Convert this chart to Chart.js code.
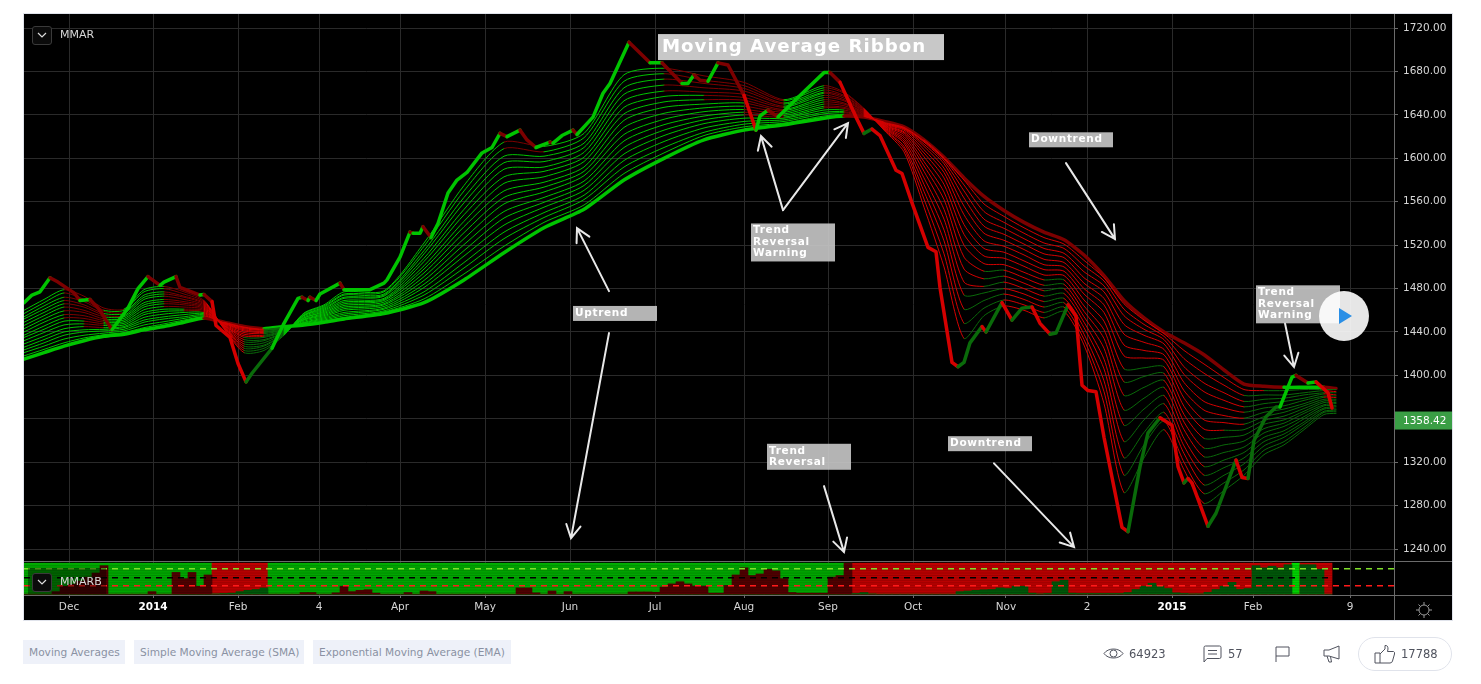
<!DOCTYPE html>
<html>
<head>
<title>Moving Average Ribbon</title>
<script src="https://cdn.jsdelivr.net/npm/chart.js"></script>
<style>
html,body{margin:0;padding:0;background:#fff;overflow:hidden}
body{width:1481px;height:684px;position:relative;font-family:"DejaVu Sans",sans-serif}
#panel{position:absolute;left:24px;top:14px;width:1428px;height:606px;background:#000;box-shadow:0 0 0 1px #e0e3eb}
#wrap{position:absolute;left:0;top:0;width:1481px;height:684px}
.abs{position:absolute}
.chev{position:absolute;left:32px;width:18px;height:17px;border:1px solid #3a3a3a;border-radius:3px;background:#0b0b0b}
.chev svg{position:absolute;left:4px;top:4px}
.leg{position:absolute;left:60px;color:#d8d8d8;font-size:11px;line-height:14px}
.tag{position:absolute;top:640px;height:24px;line-height:25px;background:#eef1f9;color:#8a91a3;font-size:10.6px;padding:0 6px;white-space:nowrap;box-sizing:border-box}
.stat{position:absolute;top:645px;line-height:18px;font-size:11.5px;color:#50535e}
</style>
</head>
<body>
<div id="panel"></div>
<div id="wrap"><canvas id="ribbon" width="1481" height="684"></canvas></div>

<div class="chev" style="top:26px"><svg width="10" height="8"><path d="M1 2 L5 6 L9 2" fill="none" stroke="#ddd" stroke-width="1.2"/></svg></div>
<div class="leg" style="top:28px">MMAR</div>
<div class="abs" style="left:28px;top:568px;width:78px;height:26px;background:rgba(0,0,0,.4)"></div>
<div class="chev" style="top:573px"><svg width="10" height="8"><path d="M1 2 L5 6 L9 2" fill="none" stroke="#ddd" stroke-width="1.2"/></svg></div>
<div class="leg" style="top:575px">MMARB</div>

<svg class="abs" style="left:1414px;top:600px" width="20" height="20" fill="none" stroke="#9a9a9a" stroke-width="1"><circle cx="10" cy="10" r="5"/><path d="M10 2v3M10 15v3M2 10h3M15 10h3M4.5 4.5l2 2M13.5 13.5l2 2M4.5 15.5l2-2M13.5 6.5l2-2"/></svg>

<svg class="abs" style="left:1319px;top:291px" width="50" height="50"><circle cx="25" cy="25" r="25" fill="#fff" fill-opacity=".9"/><path d="M20 17 L33 25 L20 33Z" fill="#2a8fe6"/></svg>

<div class="tag" style="left:23px;width:102px">Moving Averages</div>
<div class="tag" style="left:134px;width:170px">Simple Moving Average (SMA)</div>
<div class="tag" style="left:313px;width:198px">Exponential Moving Average (EMA)</div>

<svg class="abs" style="left:1103px;top:645px" width="21" height="17" fill="none" stroke="#50535e"><path d="M1 8.5 C5 2.5 16 2.5 20 8.5 C16 14.5 5 14.5 1 8.5Z"/><circle cx="10.5" cy="8.5" r="3.5"/></svg>
<div class="stat" style="left:1129px">64923</div>
<svg class="abs" style="left:1203px;top:645px" width="19" height="18" fill="none" stroke="#50535e"><path d="M1 17 V2.5 Q1 1 2.5 1 H16.5 Q18 1 18 2.5 V12 Q18 13.5 16.5 13.5 H4 Z M5 5.5 H14 M5 9 H14"/></svg>
<div class="stat" style="left:1228px">57</div>
<svg class="abs" style="left:1275px;top:646px" width="15" height="16" fill="none" stroke="#50535e"><path d="M1 16 V1 H14 V10 H1"/></svg>
<svg class="abs" style="left:1323px;top:645px" width="17" height="18" fill="none" stroke="#50535e"><path d="M16 1 V14 L6 11 H1 V5 H6 Z M4 11 L6 17 H8.5 L7.5 11.5"/></svg>
<div class="abs" style="left:1358px;top:637px;width:94px;height:34px;border:1px solid #e0e3eb;border-radius:18px;box-sizing:border-box"></div>
<svg class="abs" style="left:1374px;top:644px" width="22" height="20" fill="none" stroke="#50535e"><path d="M1 9 H6 V19 H1 Z M6 10 L11 5 V1.5 Q14 1 14 5 L13.5 7.5 H19.5 Q21 8 20.5 10 L18.5 17 Q18 19 16 19 H6"/></svg>
<div class="stat" style="left:1401px">17788</div>

<script>
// bar position of every ribbon sample (x axis unit = one bar)
const gridBars = [0,5,10,15,20,25,30,35,40,45,50,55,60,65,70,75,80,90,100,110,120,130,140,150,160,170,180,190,200,205,210,215,220,225,230,235,240,245,250,255,260,265,270,275,280,285,290,295,300,305,310,315,320,325,328];

// fastest MA, sampled at its own turning points
const fastBars = [0,2,4,6.5,8.5,12.5,14,16.5,19,21,22,26,28.5,31,34,35,38,39,44,45,47,48,51.5,53.5,55.5,57,62,65,68.5,69.5,71,71.5,73,74,79,80,86.5,90,90.75,94,96.5,97.25,99,99.75,101.75,103.5,106,108.25,110.75,114.5,117,119,120.75,124,125.75,128,131.5,132.25,134.5,137.25,138.25,142.25,144.75,146.5,151.25,156.5,159.5,164.5,166,167.5,169,171,173.5,176,180,183,184,186,188.5,194,200,201.5,204,208,210,212,214,218,219.5,222,226,228,229,232,233.5,235,236.5,239.5,240.5,244.5,247,249.5,252,254,256.5,258,261,263,264.5,266,268,270,274.5,276,279,281,284,287,288.5,290,291,292,296,298,303,304.5,306,307.5,310.5,313,314,317,318,321,323,326,327];
const fastMA = [1467,1474,1477,1490,1486,1476,1469,1470,1460,1448,1442,1462,1480,1491,1483,1486,1491,1481,1474,1474.5,1468,1446,1435,1411,1394,1402,1425,1448,1471,1472,1469,1472,1469,1475,1485,1479,1479,1485,1488,1509,1532,1531,1531,1537,1527,1540,1568,1580,1587,1605,1610,1623,1620,1626,1617,1610,1615,1614,1621,1626,1622,1638,1660,1669,1707,1688,1688,1669,1669,1677,1672,1671,1688,1686,1658,1626,1639,1644.5,1638,1658,1679,1679,1670,1638,1623,1627,1621,1589,1586,1559,1518,1514,1481,1412,1408,1412,1430,1445,1440,1467,1451,1462,1463,1448,1438,1439,1465,1455,1391,1386,1385,1343,1260,1256,1316,1347,1361,1354,1316,1301,1305,1301,1261,1273,1322,1306,1305,1340,1362,1371,1371,1398.5,1400,1393,1394,1384,1370];

// slower MAs of the ribbon, fast to slow, read at gridBars
const ma2 = [1460,1470,1479,1473,1462,1461,1479,1482,1477,1469,1443,1421,1423,1437,1457.5,1465,1477,1478,1522,1575,1615,1611,1623,1677,1683,1676,1670,1654,1667,1661,1646,1626,1606,1555,1500,1434,1455,1464,1460,1453,1459,1428,1374,1292,1324,1350,1313,1282,1294,1308,1327,1336,1350,1364,1365];
const ma3 = [1457,1467,1476,1470,1460,1460,1477,1480,1475,1468,1443,1423,1425,1437.5,1457,1464,1475,1477,1519,1570,1609,1606,1619,1671,1678,1672,1667,1653,1665,1660,1645.5,1626.5,1609,1562.5,1512,1448,1462,1469.5,1465,1458,1463,1433,1385,1308,1336,1358,1320,1291,1301,1313,1331,1339,1352,1366,1366.5];
const ma4 = [1454,1464,1472,1468,1459,1458,1474,1477,1473,1467,1444,1425,1427,1438,1456,1463,1474,1475,1515,1564,1602,1602,1614,1665,1673,1669,1664.5,1651,1663,1658,1645,1627,1611,1569.5,1524,1461,1469,1475,1470,1463,1467,1438,1395,1324,1347.5,1366,1328,1299,1308,1318.5,1335,1343,1355,1367,1368];
const ma5 = [1452,1461,1469,1465,1457,1457,1472,1475,1472,1466,1444,1427,1428,1438.5,1455.5,1462,1472,1474,1512,1559,1596,1597,1610,1659,1667.5,1665,1662,1650,1661,1657,1644.5,1627.5,1614,1576,1534,1474,1476,1480,1475,1468,1471,1444,1406,1339,1359,1374,1335,1308,1315,1324,1339,1346,1357,1369,1369];
const ma6 = [1449,1458,1466,1463,1455.5,1455,1470,1473,1470,1465,1444.5,1429,1430,1439,1455,1461,1471,1473,1508,1553,1590,1592,1605.5,1653,1662,1661,1659,1648,1660,1655.5,1644,1628,1616,1582,1544,1486,1482,1486,1480,1473,1475.5,1449,1415,1354,1369,1381.5,1342,1316,1322,1329,1343,1349,1360,1370,1371];
const ma7 = [1446,1455,1463,1460,1454,1454,1467,1470,1468,1464,1445,1431,1432,1439.5,1454,1460,1469,1471,1505,1548,1583,1588,1601,1647,1657,1658,1656,1647,1658,1654,1643.5,1628.5,1618,1588,1553,1498,1489,1491.5,1485,1478,1480,1454,1425,1368,1379,1389,1350,1325,1329,1334,1347,1353,1362,1372,1372];
const ma8 = [1443,1452,1459.5,1458,1452,1452.5,1465,1468,1466.5,1463,1445.5,1433,1433,1440,1453,1459,1467.5,1470,1501,1542,1577,1583,1597,1641,1652,1654,1653.5,1645,1656,1653,1643,1629,1620,1593,1562,1509,1496,1497,1490,1483,1484,1459,1434,1381.5,1389,1395.5,1357,1333,1336,1339.5,1351,1356,1365,1373,1374];
const ma9 = [1440,1449,1456,1455,1450.5,1451,1463,1466,1465,1462,1446,1435,1435,1440.5,1453,1458,1466,1469,1498,1537,1570,1578,1592,1635,1647,1650,1651,1644,1654,1651,1642.5,1629.5,1622,1597,1569,1520,1503,1502,1495,1488,1488,1464,1442,1394,1399,1402,1364,1342,1343,1345,1355,1359,1367,1375,1375];
const ma10 = [1437,1445.5,1453,1452.5,1449,1449.5,1460.5,1463.5,1463,1461,1446,1436.5,1436,1441,1452,1457,1464.5,1467.5,1494.5,1531.5,1564,1573.5,1588,1628.5,1641.5,1646.5,1648,1642.5,1652,1650,1642,1630,1623.5,1601.5,1576,1530,1510,1508,1500.5,1492.5,1492,1469.5,1450,1406,1407,1408,1371.5,1350.5,1349.5,1350,1358.5,1362.5,1369.5,1376.5,1376.5];
const ma11 = [1435,1442.5,1450,1450,1447.5,1448,1458,1461,1461,1460,1446.5,1438,1437,1441.5,1451.5,1456,1463,1466,1491,1526,1558,1569,1584,1622,1636,1643,1645,1641,1650,1648.5,1641.5,1630.5,1624.5,1605,1582,1539,1517,1513.5,1505.5,1497.5,1496,1475,1458,1418,1416,1414,1379,1359,1356.5,1355,1362,1366,1372,1378,1378];
const ma12 = [1432,1439.5,1446.5,1447.5,1446,1446.5,1456,1459,1459.5,1459,1447,1439.5,1438.5,1442,1451,1455,1461.5,1465,1487.5,1520.5,1551,1564,1579,1616,1631,1639,1642.5,1639.5,1648,1647,1641,1631,1626,1608,1587,1548,1524,1519,1511,1502,1500,1480,1465,1428,1423,1419,1386,1368,1363,1360.5,1366,1369,1374,1380,1379.5];
const ma13 = [1429,1436,1443,1445,1444,1445,1453.5,1456.5,1458,1458,1447.5,1441,1439.5,1442.5,1450,1454,1460,1463.5,1484,1515,1545,1559.5,1575,1610,1626,1635.5,1640,1638,1646.5,1646,1640.5,1631.5,1627,1611,1591,1556,1531,1524.5,1516,1507,1504,1485,1471,1438,1430.5,1424,1393.5,1376,1370,1366,1370,1372,1377,1381,1381];
const ma14 = [1426,1433,1440,1442,1442.5,1444,1451,1454,1456,1457,1448,1442,1440.5,1443,1449,1453,1458,1462,1481,1510,1538.5,1555,1570.5,1604,1621,1632,1637,1637,1644.5,1644.5,1640,1632,1627.5,1613,1595,1563.5,1537.5,1530,1521,1512,1508.5,1490,1477,1447,1437,1429,1401,1385,1377,1371,1374,1376,1379,1383,1382];
const ma15 = [1423.5,1430,1437,1440,1441,1442.5,1449,1452,1454,1456,1448,1443,1441.5,1443.5,1448.5,1452,1456.5,1461,1477,1504,1532,1550,1566,1598,1615.5,1628,1634,1635.5,1642.5,1643,1639.5,1632.5,1628,1615,1597.5,1570,1544,1535.5,1526,1517,1512.5,1495.5,1482.5,1455,1442.5,1433,1408,1393,1384,1376,1378,1379,1382,1384,1384];
const ma16 = [1421,1427,1433.5,1437,1439,1441,1446.5,1449.5,1452.5,1455,1448.5,1444,1442,1444,1448,1451,1455,1459.5,1474,1499,1526,1545.5,1562,1592,1610,1624,1631.5,1634,1641,1642,1639,1633,1628.5,1616,1599.5,1575.5,1551,1541,1531,1522,1517,1501,1487,1461,1447,1436,1415.5,1402,1391,1381.5,1382,1382,1384,1386,1385];
const ma17 = [1418,1424,1430,1434.5,1437.5,1439.5,1444,1447.5,1451,1454,1449,1444.5,1442.5,1444.5,1447,1450,1453.5,1458.5,1470.5,1493.5,1519,1541,1557,1586,1605,1621,1629,1632.5,1639,1640.5,1638.5,1633.5,1629,1617,1600.5,1580,1558,1546.5,1536,1527,1521,1506,1490,1466,1451,1438.5,1423,1410.5,1398,1387,1386,1386,1387,1387,1387];
const slowMA = [1415,1421,1427,1432,1436,1438,1442,1445,1449,1453,1449,1445,1443,1445,1446.5,1449,1452,1457,1467,1488,1513,1536,1553,1580,1600,1617,1626,1631,1637,1639,1638,1634,1629,1617,1601,1582,1565,1552,1541,1532,1525,1511,1492,1469,1453,1440,1430,1419,1405,1392,1390,1389,1389,1389,1388];

// lower panel: share of the ribbon against the trend, one value every 2 bars
const bandLower = [
 0,0,0,0,8,25,32,42,55,68,
 92,0,0,0,0,0,8,0,0,70,
 50,70,25,62,1,2,3,8,12,15,
 20,0,0,0,0,5,5,0,0,4,
 25,8,12,14,3,0,0,0,5,0,
 10,8,0,0,0,0,0,0,0,0,
 0,0,20,20,4,0,10,0,8,0,
 0,0,0,0,0,0,7,7,7,6,
 23,33,40,33,26,26,3,3,28,62,
 85,60,65,80,75,50,5,3,3,3,
 3,55,60,100,2,5,1,0,0,0,
 0,0,0,0,0,0,0,8,10,12,
 14,15,20,18,25,25,3,1,2,40,
 45,3,2,2,2,2,2,2,5,15,
 25,35,25,18,4,2,1,1,6,15,
 25,38,15,18,92,85,90,85,95,0,
 95,95,80,0];
const bandStarts = [0,47,61,207,317,319];
const bandStates = ['up','down','up','down','lime','down'];
const bandStripes = [5,10.5,16,21.5,27,32.5,38,43.5,49,54.5,60,65.5,71,76.5,82,87.5,93];
const bandLevels = [82,53,27];

const priceTicks = [1240,1280,1320,1360,1400,1440,1480,1520,1560,1600,1640,1680,1720];
const timeTicks = [11.25,32.25,53.5,73.75,94,115.25,136.5,157.75,180,201,222.25,245.5,265.75,287,307.25,331.5];
const timeLabels = ['Dec','2014','Feb','4','Apr','May','Jun','Jul','Aug','Sep','Oct','Nov','2','2015','Feb','9'];
const lastPrice = 1358.42;

// text notes on the chart
const noteBars = [251.25,137.25,181.75,185.75,231,308];
const notePrices = [1624,1464,1540,1337,1344,1483];
const noteTexts = [['Downtrend'],['Uptrend'],['Trend','Reversal','Warning'],['Trend','Reversal'],['Downtrend'],['Trend','Reversal','Warning']];
const titleBar = 158.5, titlePrice = 1714.5;

// arrows: from bar, from price, to bar, to price
const arrowFromBars = [146.25,146.25,189.75,189.75,260.5,200,242.5,315.25];
const arrowFromPrices = [1477.7,1439,1552.3,1552.3,1595.6,1298,1319,1448];
const arrowToBars = [138.25,136.75,184.25,206,272.75,205,262.5,317.5];
const arrowToPrices = [1535.7,1250,1620.5,1632.5,1525.6,1237.2,1241.8,1407.7];

function slowAt(bar){
	for(var i=1;i<gridBars.length;i++){
		if(bar<=gridBars[i]){
			var t=(bar-gridBars[i-1])/(gridBars[i]-gridBars[i-1]);
			return slowMA[i-1]+(slowMA[i]-slowMA[i-1])*t;
		}
	}
	return slowMA[slowMA.length-1];
}
function segColor(ctx){
	var up = ctx.p1.parsed.y >= ctx.p0.parsed.y;
	var above = ctx.p1.parsed.y >= slowAt(ctx.p1.parsed.x)-0.01;
	if(up) return above ? '#00c400' : '#0a6a0a';
	return above ? '#7c0000' : '#d40000';
}
function lineSet(xs,ys,width,tension){
	return {type:'line',data:xs.map(function(x,i){return {x:x,y:ys[i]}}),yAxisID:'y',borderWidth:width,tension:tension,
		pointRadius:0,borderColor:'#00c400',segment:{borderColor:segColor},borderCapStyle:'round',borderJoinStyle:'round'};
}
function stateAt(bar){
	var s='up';
	for(var i=0;i<bandStarts.length;i++){ if(bar>=bandStarts[i]) s=bandStates[i]; }
	return s;
}
function isYear(c){ return c.tick && /^20/.test(c.tick.label); }
var bandBars = bandLower.map(function(v,i){return i*2});

var datasets = [lineSet(fastBars,fastMA,3.5,0)];
[ma2,ma3,ma4,ma5,ma6,ma7,ma8,ma9,ma10,ma11,ma12,ma13,ma14,ma15,ma16,ma17].forEach(function(m){
	datasets.push(lineSet(gridBars,m,1,0.25));
});
datasets.push(lineSet(gridBars,slowMA,3.5,0.2));

// dashed levels first so they sit over the stripes
['#7fe02a','#000000','#ff1a1a'].forEach(function(c,i){
	datasets.push({type:'line',data:[{x:0,y:bandLevels[i]},{x:342.5,y:bandLevels[i]}],yAxisID:'yBand',borderColor:c,borderWidth:1.5,borderDash:[6,5],pointRadius:0});
});
bandStripes.forEach(function(v){
	datasets.push({type:'line',data:[{x:-1,y:v},{x:327,y:v}],yAxisID:'yBand',borderColor:'rgba(0,0,0,.2)',borderWidth:1,pointRadius:0});
});
// lower part overlaps the full height bar
datasets.push({type:'bar',data:bandBars.map(function(b,i){return {x:b,y:bandLower[i]}}),yAxisID:'yBand',grouped:false,barPercentage:1,categoryPercentage:1,borderWidth:0,
	backgroundColor:function(c){ return stateAt(c.parsed.x)=='down' ? '#005c0a' : '#540000'; }});
datasets.push({type:'bar',data:bandBars.map(function(b){return {x:b,y:100}}),yAxisID:'yBand',grouped:false,barPercentage:1,categoryPercentage:1,borderWidth:0,
	backgroundColor:function(c){ var s=stateAt(c.parsed.x); return s=='down' ? '#c40000' : (s=='lime' ? '#00e000' : '#00b000'); }});

const overlay = {
	id:'overlay',
	afterDatasetsDraw:function(chart){
		var ctx=chart.ctx, x=chart.scales.x, y=chart.scales.y, yb=chart.scales.yBand, a=chart.chartArea;
		ctx.save();
		// pane separators
		ctx.strokeStyle='#6b6b6b'; ctx.lineWidth=1;
		ctx.beginPath();
		ctx.moveTo(a.left,y.bottom+0.5); ctx.lineTo(a.right+58,y.bottom+0.5);
		ctx.moveTo(a.left,yb.bottom+0.5); ctx.lineTo(a.right+58,yb.bottom+0.5);
		ctx.moveTo(a.right+0.5,a.top); ctx.lineTo(a.right+0.5,a.bottom+25);
		ctx.stroke();
		// arrows
		ctx.strokeStyle='#e8e8e8'; ctx.lineWidth=2; ctx.lineCap='round';
		arrowFromBars.forEach(function(b,i){
			var x0=x.getPixelForValue(b), y0=y.getPixelForValue(arrowFromPrices[i]);
			var x1=x.getPixelForValue(arrowToBars[i]), y1=y.getPixelForValue(arrowToPrices[i]);
			var ang=Math.atan2(y1-y0,x1-x0), h=15;
			ctx.beginPath();
			ctx.moveTo(x0,y0); ctx.lineTo(x1,y1);
			ctx.moveTo(x1-h*Math.cos(ang-0.5),y1-h*Math.sin(ang-0.5));
			ctx.lineTo(x1,y1);
			ctx.lineTo(x1-h*Math.cos(ang+0.5),y1-h*Math.sin(ang+0.5));
			ctx.stroke();
		});
		// note boxes
		ctx.textBaseline='middle'; ctx.textAlign='left';
		ctx.font='bold 10.5px "DejaVu Sans"'; ctx.letterSpacing='0.7px';
		noteTexts.forEach(function(lines,i){
			var lx=x.getPixelForValue(noteBars[i]), ty=y.getPixelForValue(notePrices[i]);
			var h=lines.length==1 ? 15 : (lines.length==2 ? 26 : 38);
			ctx.fillStyle='rgba(200,200,200,.9)';
			ctx.fillRect(lx,ty,84,h);
			ctx.fillStyle='#fff';
			lines.forEach(function(t,j){ ctx.fillText(t,lx+2,ty+7+j*11.6); });
		});
		// title
		var tx=x.getPixelForValue(titleBar), ty=y.getPixelForValue(titlePrice);
		ctx.fillStyle='#c8c8c8'; ctx.fillRect(tx,ty,286,26);
		ctx.font='bold 18.2px "DejaVu Sans"'; ctx.letterSpacing='1px';
		ctx.fillStyle='#fff'; ctx.fillText('Moving Average Ribbon',tx+4,ty+13.5);
		ctx.letterSpacing='0px';
		// last price tag
		var py=y.getPixelForValue(lastPrice);
		ctx.fillStyle='#3a9e45'; ctx.fillRect(a.right+1,py-9,57,18);
		ctx.font='10.5px "DejaVu Sans"'; ctx.fillStyle='#fff';
		ctx.fillText(lastPrice.toFixed(2),a.right+9,py+0.5);
		ctx.restore();
	}
};

new Chart(document.getElementById('ribbon'),{
	data:{datasets:datasets},
	plugins:[overlay],
	options:{
		responsive:false,animation:false,
		layout:{padding:{left:24,top:14,right:29,bottom:64}},
		plugins:{legend:{display:false},tooltip:{enabled:false}},
		scales:{
			x:{type:'linear',min:0,max:342.5,offset:false,
				afterBuildTicks:function(s){ s.ticks=timeTicks.map(function(v){return {value:v}}); },
				afterFit:function(s){ s.height=25; },
				grid:{color:'#2a2a2a',tickColor:'#6b6b6b',tickLength:3,offset:false},
				border:{display:false},
				ticks:{autoSkip:false,maxRotation:0,padding:3,
					callback:function(v){ return timeLabels[timeTicks.indexOf(v)]; },
					color:function(c){ return isYear(c) ? '#fff' : '#d6d6d6'; },
					font:function(c){ return {family:'"DejaVu Sans"',size:10.5,weight:isYear(c)?'bold':'normal'}; }}
			},
			y:{type:'linear',position:'right',stack:'panes',stackWeight:547,min:1229,max:1733,
				afterBuildTicks:function(s){ s.ticks=priceTicks.map(function(v){return {value:v}}); },
				afterFit:function(s){ s.width=58; },
				grid:{color:'#2a2a2a',tickColor:'#6b6b6b',tickLength:4},
				border:{display:false},
				ticks:{padding:5,color:'#d6d6d6',font:{family:'"DejaVu Sans"',size:10.5},callback:function(v){ return v.toFixed(2); }}
			},
			yBand:{type:'linear',position:'right',stack:'panes',stackWeight:34,min:-3,max:107,
				afterFit:function(s){ s.width=58; },
				grid:{display:false},border:{display:false},ticks:{display:false}
			}
		}
	}
});
</script>
</body>
</html>
